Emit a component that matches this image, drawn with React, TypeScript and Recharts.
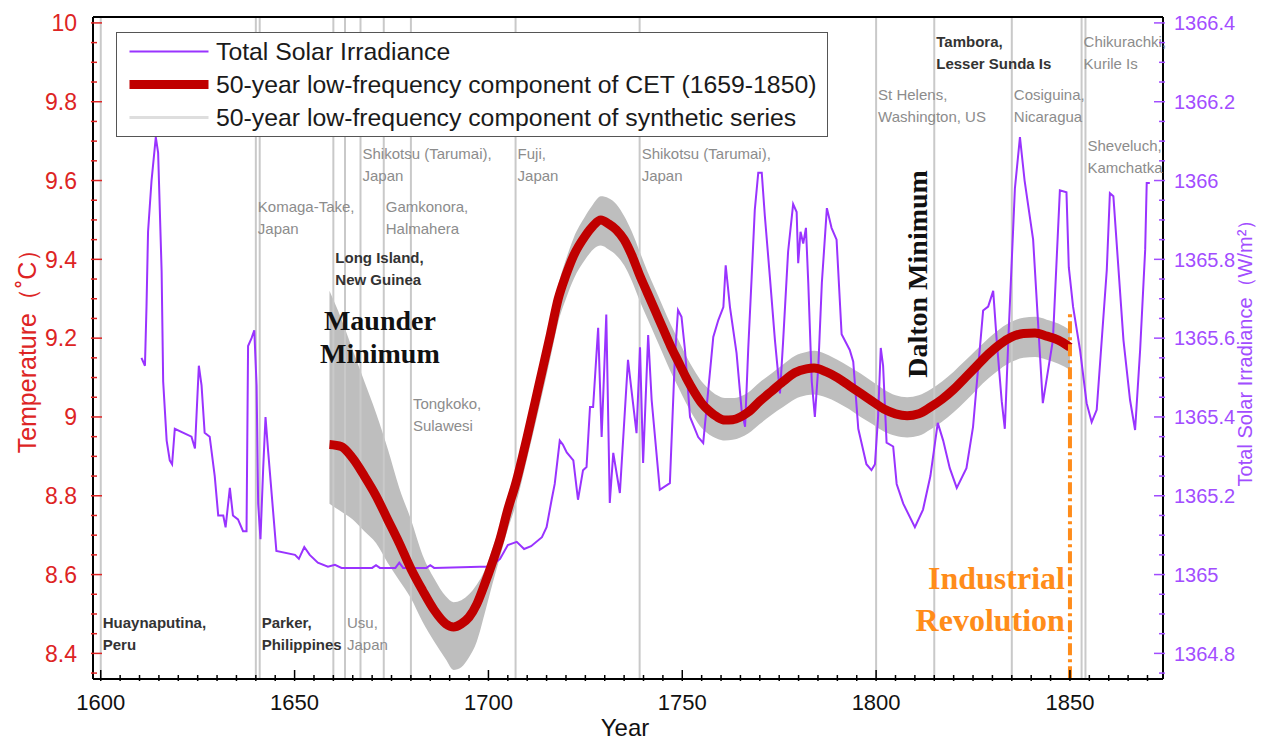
import React from "react";
import {
  ComposedChart,
  Line,
  Area,
  XAxis,
  YAxis,
  ReferenceLine,
  ReferenceDot,
  Legend,
  Label,
} from "recharts";

const SANS = "Arial, 'Liberation Sans', sans-serif";
const SERIF = "'Times New Roman', 'Liberation Serif', serif";
const RED = "#c00000";
const RED_AXIS = "#dd2424";
const PURPLE = "#9933ff";
const PURPLE_AXIS = "#a24dff";
const ORANGE = "#ff8c1a";

// 50-year low-frequency component of CET (1659-1850)
const cetYears = [
  1659, 1662, 1665, 1668, 1671, 1674, 1677, 1680, 1683, 1686,
  1689, 1691, 1693, 1695, 1697, 1699, 1701, 1703, 1705, 1707,
  1710, 1713, 1716, 1718, 1720, 1722, 1725, 1727, 1729, 1731,
  1733, 1735, 1737, 1739, 1741, 1743, 1745, 1747, 1749, 1751,
  1753, 1755, 1757, 1759, 1761, 1763, 1765, 1767, 1770, 1773,
  1776, 1779, 1782, 1784, 1787, 1790, 1793, 1796, 1799, 1802,
  1805, 1808, 1811, 1814, 1817, 1820, 1823, 1826, 1829, 1832,
  1835, 1838, 1841, 1844, 1847, 1850,
];
const cetTemp = [
  8.93, 8.925, 8.895, 8.85, 8.8, 8.74, 8.68, 8.615, 8.56, 8.51,
  8.475, 8.467, 8.475, 8.492, 8.525, 8.575, 8.63, 8.69, 8.765, 8.83,
  8.95, 9.08, 9.21, 9.3, 9.36, 9.41, 9.46, 9.485, 9.5, 9.49,
  9.475, 9.45, 9.41, 9.36, 9.315, 9.27, 9.225, 9.18, 9.14, 9.1,
  9.065, 9.035, 9.015, 9.0, 8.992, 8.993, 9.0, 9.012, 9.04, 9.065,
  9.09, 9.112, 9.122, 9.124, 9.115, 9.1, 9.08, 9.06, 9.04, 9.02,
  9.008, 9.003, 9.008, 9.025, 9.045, 9.07, 9.1, 9.13, 9.16, 9.185,
  9.203, 9.212, 9.213, 9.205, 9.195, 9.177,
];
// envelope of the synthetic-series ensemble (same years as CET)
const synthLow = [
  8.78, 8.76, 8.74, 8.71, 8.68, 8.63, 8.585, 8.54, 8.48, 8.43,
  8.385, 8.358, 8.365, 8.39, 8.43, 8.5, 8.575, 8.645, 8.715, 8.775,
  8.895, 9.02, 9.15, 9.24, 9.3, 9.35, 9.4, 9.425, 9.435, 9.425,
  9.41, 9.385, 9.345, 9.295, 9.25, 9.205, 9.16, 9.115, 9.075, 9.035,
  9.0, 8.972, 8.955, 8.945, 8.94, 8.942, 8.948, 8.958, 8.982, 9.005,
  9.025, 9.045, 9.055, 9.057, 9.05, 9.037, 9.02, 9.0, 8.982, 8.963,
  8.952, 8.948, 8.952, 8.968, 8.988, 9.012, 9.04, 9.07, 9.098, 9.122,
  9.14, 9.15, 9.152, 9.145, 9.135, 9.12,
];
const synthHigh = [
  9.32, 9.25, 9.17, 9.09, 9.01, 8.92, 8.82, 8.74, 8.65, 8.59,
  8.545, 8.53, 8.535, 8.55, 8.575, 8.61, 8.665, 8.725, 8.8, 8.865,
  8.985, 9.115, 9.245, 9.335, 9.4, 9.455, 9.51, 9.54, 9.56, 9.555,
  9.54, 9.51, 9.47, 9.42, 9.37, 9.325, 9.28, 9.235, 9.195, 9.155,
  9.12, 9.09, 9.07, 9.055, 9.048, 9.048, 9.052, 9.062, 9.088, 9.11,
  9.133, 9.155, 9.165, 9.168, 9.16, 9.145, 9.128, 9.11, 9.09, 9.07,
  9.055, 9.05, 9.055, 9.07, 9.09, 9.115, 9.143, 9.172, 9.2, 9.224,
  9.242, 9.252, 9.254, 9.247, 9.237, 9.22,
];

// Total Solar Irradiance (W/m2)
const tsiYears = [
  1610.5, 1611.4, 1611.8, 1612.2, 1613.1, 1614.2, 1614.8, 1615.7, 1616.1, 1617.0,
  1617.8, 1618.4, 1619.1, 1623.4, 1624.3, 1625.3, 1626.0, 1626.8, 1628.1, 1629.4,
  1630.3, 1631.6, 1632.2, 1633.3, 1634.1, 1635.4, 1636.7, 1637.6, 1638.0, 1638.9,
  1639.6, 1640.2, 1640.6, 1641.2, 1641.9, 1642.5, 1643.2, 1645.3, 1650.1, 1651.1,
  1652.5, 1653.9, 1656.0, 1658.6, 1660.4, 1662.1, 1670.0, 1671.0, 1672.0, 1676.0,
  1677.0, 1678.0, 1684.0, 1685.0, 1686.0, 1697.8, 1700.5, 1703.0, 1705.0, 1707.3,
  1709.2, 1711.0, 1713.8, 1715.0, 1716.3, 1717.1, 1718.4, 1719.2, 1720.2, 1721.9,
  1723.1, 1724.4, 1725.3, 1726.2, 1727.0, 1728.3, 1729.2, 1730.4, 1731.3, 1732.2,
  1733.9, 1736.0, 1736.9, 1738.2, 1739.1, 1739.9, 1741.2, 1742.1, 1744.2, 1746.8,
  1748.1, 1748.9, 1749.8, 1750.7, 1752.0, 1754.1, 1755.4, 1756.7, 1758.0, 1759.3,
  1760.6, 1761.2, 1762.3, 1764.0, 1765.3, 1766.2, 1767.0, 1767.9, 1768.7, 1769.6,
  1770.5, 1771.3, 1772.6, 1773.9, 1775.2, 1776.0, 1777.3, 1778.6, 1779.5, 1779.9,
  1780.5, 1781.2, 1781.9, 1782.5, 1783.4, 1784.2, 1785.1, 1786.0, 1787.3, 1788.5,
  1789.8, 1791.1, 1793.2, 1794.1, 1795.4, 1797.5, 1798.8, 1799.7, 1800.5, 1801.2,
  1801.8, 1802.7, 1804.4, 1805.3, 1807.0, 1810.0, 1812.1, 1814.0, 1815.9, 1817.3,
  1819.0, 1820.8, 1823.3, 1825.0, 1827.6, 1828.9, 1830.2, 1831.1, 1832.4, 1833.2,
  1834.1, 1835.8, 1837.1, 1838.3, 1840.5, 1843.0, 1845.6, 1847.4, 1849.1, 1849.7,
  1850.8, 1852.6, 1854.3, 1855.6, 1856.9, 1859.5, 1860.3, 1861.2, 1863.8, 1865.5,
  1866.8, 1868.1, 1869.4, 1869.8, 1870.6,
];
const tsiValues = [
  1365.55, 1365.53, 1365.68, 1365.87, 1366.0, 1366.11, 1366.07, 1365.77, 1365.49, 1365.34,
  1365.29, 1365.28, 1365.37, 1365.35, 1365.32, 1365.53, 1365.48, 1365.36, 1365.35, 1365.25,
  1365.15, 1365.15, 1365.12, 1365.22, 1365.15, 1365.14, 1365.11, 1365.11, 1365.58, 1365.6,
  1365.62, 1365.48, 1365.18, 1365.09, 1365.27, 1365.4, 1365.31, 1365.06, 1365.05, 1365.04,
  1365.07, 1365.05, 1365.03, 1365.02, 1365.025, 1365.017, 1365.017, 1365.024, 1365.017, 1365.017,
  1365.03, 1365.017, 1365.017, 1365.024, 1365.017, 1365.02, 1365.02, 1365.04, 1365.075, 1365.083,
  1365.065, 1365.072, 1365.095, 1365.12, 1365.19, 1365.23, 1365.34, 1365.33, 1365.31, 1365.29,
  1365.19, 1365.265, 1365.273, 1365.425, 1365.425, 1365.626, 1365.349, 1365.66, 1365.182, 1365.309,
  1365.207, 1365.545, 1365.468, 1365.359, 1365.577, 1365.283, 1365.608, 1365.443, 1365.215, 1365.232,
  1365.552, 1365.671, 1365.654, 1365.57, 1365.4, 1365.349, 1365.334, 1365.468, 1365.603, 1365.646,
  1365.679, 1365.785, 1365.679, 1365.562, 1365.418, 1365.375, 1365.57, 1365.755, 1365.925, 1366.02,
  1366.02, 1365.91, 1365.755, 1365.595, 1365.46, 1365.59, 1365.82, 1365.94, 1365.92, 1365.79,
  1365.87, 1365.84, 1365.88, 1365.74, 1365.49, 1365.4, 1365.53, 1365.74, 1365.93, 1365.88,
  1365.85, 1365.61, 1365.57, 1365.54, 1365.37, 1365.28, 1365.265, 1365.28, 1365.4, 1365.575,
  1365.53, 1365.335, 1365.325, 1365.23, 1365.18, 1365.12, 1365.165, 1365.25, 1365.385, 1365.34,
  1365.27, 1365.22, 1365.27, 1365.375, 1365.67, 1365.68, 1365.72, 1365.595, 1365.44, 1365.37,
  1365.595, 1365.98, 1366.11, 1366.0, 1365.85, 1365.435, 1365.595, 1365.975, 1365.97, 1365.78,
  1365.68, 1365.57, 1365.435, 1365.387, 1365.418, 1365.773, 1365.968, 1365.96, 1365.595, 1365.443,
  1365.367, 1365.57, 1365.824, 1365.994, 1365.994,
];

// volcanic eruptions
const eruptionYears = [1600, 1640, 1641, 1660, 1663, 1667, 1673, 1680, 1707, 1739, 1800, 1815, 1835, 1853, 1854];
const eruptionNames = [
  "Huaynaputina,", "Komaga-Take,", "Parker,", "Long Island,", "Usu,", "Shikotsu (Tarumai),",
  "Gamkonora,", "Tongkoko,", "Fuji,", "Shikotsu (Tarumai),", "St Helens,", "Tambora,",
  "Cosiguina,", "Chikurachki,", "Sheveluch,",
];
const eruptionPlaces = [
  "Peru", "Japan", "Philippines", "New Guinea", "Japan", "Japan",
  "Halmahera", "Sulawesi", "Japan", "Japan", "Washington, US", "Lesser Sunda Is",
  "Nicaragua", "Kurile Is", "Kamchatka",
];
const eruptionBold = [true, false, true, true, false, false, false, false, false, false, false, true, false, false, false];
// label baseline, in temperature units
const eruptionLabelY = [8.464, 9.52, 8.464, 9.391, 8.464, 9.655, 9.52, 9.02, 9.655, 9.655, 9.804, 9.939, 9.804, 9.939, 9.675];

const legendLabels = [
  "Total Solar Irradiance",
  "50-year low-frequency component of CET (1659-1850)",
  "50-year low-frequency component of synthetic series",
];

const yearMajor = [1600, 1650, 1700, 1750, 1800, 1850];
const tempMajor = [8.4, 8.6, 8.8, 9, 9.2, 9.4, 9.6, 9.8, 10];
const tsiMajor = [1364.8, 1365, 1365.2, 1365.4, 1365.6, 1365.8, 1366, 1366.2, 1366.4];

const yearTicks: number[] = [];
for (let y = 1600; y <= 1870; y += 5) yearTicks.push(y);
const tempTicks: number[] = [];
for (let i = 0; i <= 33; i++) tempTicks.push(+(8.35 + i * 0.05).toFixed(2));
const tsiTicks: number[] = [];
for (let i = 0; i <= 33; i++) tsiTicks.push(+(1364.75 + i * 0.05).toFixed(2));

const isMajor = (list: number[], v: number) => list.some((m) => Math.abs(m - v) < 1e-6);

const cetData = cetYears.map((year, i) => ({ year, cet: cetTemp[i] }));
const bandData = cetYears.map((year, i) => ({ year, band: [synthLow[i], synthHigh[i]] }));
const tsiData = tsiYears.map((year, i) => ({ year, tsi: tsiValues[i] }));

const BottomTick = ({ x, y, payload }: any) => {
  const major = isMajor(yearMajor, payload.value);
  return (
    <g>
      <line x1={x} x2={x} y1={y} y2={y - (major ? 11 : 6)} stroke="#000" strokeWidth={1.5} />
      {major && (
        <text x={x} y={y + 29} textAnchor="middle" fontFamily={SANS} fontSize={22} fill="#111">
          {payload.value}
        </text>
      )}
    </g>
  );
};

const TopTick = ({ x, y, payload }: any) => {
  const major = isMajor(yearMajor, payload.value);
  return <line x1={x} x2={x} y1={y} y2={y + (major ? 11 : 6)} stroke="#000" strokeWidth={1.5} />;
};

const LeftTick = ({ x, y, payload }: any) => {
  const major = isMajor(tempMajor, payload.value);
  return (
    <g>
      <line x1={x} x2={x + (major ? 11 : 6)} y1={y} y2={y} stroke={RED_AXIS} strokeWidth={1.5} />
      {major && (
        <text x={x - 14} y={y} dy="0.36em" textAnchor="end" fontFamily={SANS} fontSize={23} fill={RED_AXIS}>
          {Number(payload.value.toFixed(1))}
        </text>
      )}
    </g>
  );
};

const RightTick = ({ x, y, payload }: any) => {
  const major = isMajor(tsiMajor, payload.value);
  return (
    <g>
      <line x1={x} x2={x - (major ? 11 : 6)} y1={y} y2={y} stroke={PURPLE_AXIS} strokeWidth={1.5} />
      {major && (
        <text x={x + 9} y={y} dy="0.36em" textAnchor="start" fontFamily={SANS} fontSize={20} fill={PURPLE_AXIS}>
          {Number(payload.value.toFixed(1))}
        </text>
      )}
    </g>
  );
};

const legendStyles = [
  { stroke: PURPLE, width: 2 },
  { stroke: RED, width: 9 },
  { stroke: "#dedede", width: 3 },
];

const LegendBox = () => (
  <div
    style={{
      width: 712,
      height: 105,
      boxSizing: "border-box",
      border: "1.5px solid #555",
      background: "#fff",
      fontFamily: SANS,
      fontSize: 24.8,
      color: "#1a1a1a",
      paddingTop: 2,
    }}
  >
    {legendLabels.map((label, i) => (
      <div key={label} style={{ display: "flex", alignItems: "center", height: 33 }}>
        <svg width={96} height={33} style={{ flex: "none" }}>
          <line x1={12.5} x2={91.5} y1={16.5} y2={16.5} stroke={legendStyles[i].stroke} strokeWidth={legendStyles[i].width} />
        </svg>
        <span style={{ marginLeft: 3, whiteSpace: "nowrap", lineHeight: "33px" }}>{label}</span>
      </div>
    ))}
  </div>
);

export default function App() {
  return (
    <div style={{ position: "absolute", left: 0, top: 0, width: 1261, height: 743, background: "#fff" }}>
      <ComposedChart width={1261} height={743} margin={{ top: 0, right: 0, bottom: 0, left: 0 }}>
        <XAxis
          dataKey="year"
          type="number"
          domain={[1598, 1874]}
          allowDataOverflow
          ticks={yearTicks}
          interval={0}
          tickSize={0}
          tickLine={false}
          tick={<BottomTick />}
          axisLine={{ stroke: "#000", strokeWidth: 2 }}
          height={64}
        >
          <Label
            content={({ viewBox }: any) => (
              <text x={viewBox.x + 532} y={viewBox.y + 57} textAnchor="middle" fontFamily={SANS} fontSize={24} fill="#111">
                Year
              </text>
            )}
          />
        </XAxis>
        <XAxis
          xAxisId="top"
          orientation="top"
          type="number"
          domain={[1598, 1874]}
          allowDataOverflow
          ticks={yearTicks}
          interval={0}
          tickSize={0}
          tickLine={false}
          tick={<TopTick />}
          axisLine={{ stroke: "#000", strokeWidth: 2 }}
          height={17}
        />
        <YAxis
          yAxisId="left"
          orientation="left"
          type="number"
          domain={[8.335, 10.015]}
          allowDataOverflow
          ticks={tempTicks}
          interval={0}
          tickSize={0}
          tickLine={false}
          tick={<LeftTick />}
          axisLine={{ stroke: "#000", strokeWidth: 2 }}
          width={93}
        >
          <Label
            content={({ viewBox }: any) => {
              const cx = viewBox.x + 27;
              const cy = viewBox.y + 328;
              return (
                <text
                  x={cx}
                  y={cy}
                  dy="0.35em"
                  textAnchor="middle"
                  transform={`rotate(-90, ${cx}, ${cy})`}
                  fontFamily={SANS}
                  fontSize={25}
                  fill={RED_AXIS}
                >
                  Temperature（˚C）
                </text>
              );
            }}
          />
        </YAxis>
        <YAxis
          yAxisId="right"
          orientation="right"
          type="number"
          domain={[1364.735, 1366.415]}
          allowDataOverflow
          ticks={tsiTicks}
          interval={0}
          tickSize={0}
          tickLine={false}
          tick={<RightTick />}
          axisLine={{ stroke: "#000", strokeWidth: 2 }}
          width={98}
        >
          <Label
            content={({ viewBox }: any) => {
              const cx = viewBox.x + 82;
              const cy = viewBox.y + 331;
              return (
                <text
                  x={cx}
                  y={cy}
                  dy="0.35em"
                  textAnchor="middle"
                  transform={`rotate(-90, ${cx}, ${cy})`}
                  fontFamily={SANS}
                  fontSize={20}
                  fill={PURPLE_AXIS}
                >
                  Total Solar Irradiance（W/m²）
                </text>
              );
            }}
          />
        </YAxis>

        {eruptionYears.map((yr) => (
          <ReferenceLine key={`v${yr}`} yAxisId="left" x={yr} stroke="#c9c9c9" strokeWidth={2} />
        ))}

        <Area
          yAxisId="left"
          data={bandData}
          dataKey="band"
          name={legendLabels[2]}
          type="monotone"
          stroke="none"
          fill="#bebebe"
          fillOpacity={1}
          isAnimationActive={false}
          activeDot={false}
        />
        <Line
          yAxisId="right"
          data={tsiData}
          dataKey="tsi"
          name={legendLabels[0]}
          type="linear"
          stroke={PURPLE}
          strokeWidth={2}
          dot={false}
          activeDot={false}
          isAnimationActive={false}
        />
        <Line
          yAxisId="left"
          data={cetData}
          dataKey="cet"
          name={legendLabels[1]}
          type="monotone"
          stroke={RED}
          strokeWidth={9}
          dot={false}
          activeDot={false}
          isAnimationActive={false}
        />

        <ReferenceLine
          yAxisId="left"
          segment={[
            { x: 1850, y: 8.337 },
            { x: 1850, y: 9.27 },
          ]}
          stroke={ORANGE}
          strokeWidth={4}
          strokeDasharray="12 4 3 4"
        />

        {eruptionYears.map((yr, i) => (
          <ReferenceDot
            key={`t${yr}`}
            yAxisId="left"
            x={yr}
            y={eruptionLabelY[i]}
            r={0}
            ifOverflow="hidden"
            shape={(p: any) => (
              <text
                x={p.cx + 2}
                y={p.cy}
                fontFamily={SANS}
                fontSize={15}
                fontWeight={eruptionBold[i] ? 700 : 400}
                fill={eruptionBold[i] ? "#333" : "#8c8c8c"}
              >
                <tspan x={p.cx + 2}>{eruptionNames[i]}</tspan>
                <tspan x={p.cx + 2} dy={22}>
                  {eruptionPlaces[i]}
                </tspan>
              </text>
            )}
          />
        ))}

        <ReferenceDot
          yAxisId="left"
          x={1672}
          y={9.246}
          r={0}
          shape={(p: any) => (
            <text x={p.cx} y={p.cy} dy="0.35em" textAnchor="middle" fontFamily={SERIF} fontWeight={700} fontSize={28} fill="#111">
              <tspan x={p.cx}>Maunder</tspan>
              <tspan x={p.cx} dy={33}>
                Minimum
              </tspan>
            </text>
          )}
        />
        <ReferenceDot
          yAxisId="left"
          x={1810.5}
          y={9.363}
          r={0}
          shape={(p: any) => (
            <text
              x={p.cx}
              y={p.cy}
              dy="0.35em"
              textAnchor="middle"
              transform={`rotate(-90, ${p.cx}, ${p.cy})`}
              fontFamily={SERIF}
              fontWeight={700}
              fontSize={28}
              fill="#111"
            >
              Dalton Minimum
            </text>
          )}
        />
        <ReferenceDot
          yAxisId="left"
          x={1848.7}
          y={8.591}
          r={0}
          shape={(p: any) => (
            <text x={p.cx} y={p.cy} dy="0.35em" textAnchor="end" fontFamily={SERIF} fontWeight={700} fontSize={32} fill={ORANGE}>
              <tspan x={p.cx}>Industrial</tspan>
              <tspan x={p.cx} dy={42}>
                Revolution
              </tspan>
            </text>
          )}
        />

        <Legend
          layout="horizontal"
          verticalAlign="middle"
          align="center"
          wrapperStyle={{ left: 116, top: 32, width: 712, height: 105 }}
          content={() => <LegendBox />}
        />
      </ComposedChart>
    </div>
  );
}
